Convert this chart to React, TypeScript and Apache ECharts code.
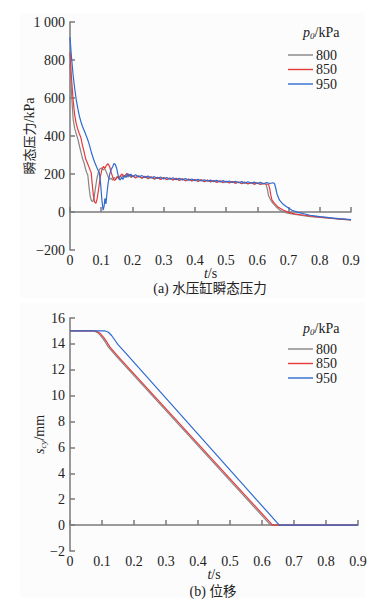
import React, { useEffect, useRef } from 'react';
import * as echarts from 'echarts';

const LATIN = 'Liberation Serif';
const CJK = 'Liberation Serif, Noto Sans CJK SC';
const NAMES = ['800', '850', '950'];
const COLORS = ['#858585', '#e8393a', '#2e6bd0'];
const X_TICKS = { min: 0, max: 0.9, interval: 0.1 };
const P_TICKS = { min: -200, max: 1000, interval: 200 };
const S_TICKS = { min: -2, max: 16, interval: 2 };

// (a) transient pressure, [t (s), p (kPa)]
const p800: [number, number][] = [
  [0, 780], [0.005, 620], [0.01, 490], [0.015, 440], [0.02, 412], [0.025, 385], [0.03, 350],
  [0.035, 315], [0.04, 282], [0.045, 258], [0.05, 225], [0.054, 205], [0.057, 195],
  [0.061, 130], [0.065, 80], [0.069, 58], [0.073, 55], [0.077, 75], [0.081, 120], [0.086, 175],
  [0.091, 210], [0.096, 228], [0.101, 232], [0.106, 222], [0.111, 228], [0.116, 212],
  [0.121, 190], [0.126, 172], [0.131, 178], [0.136, 168], [0.141, 182], [0.146, 174],
  [0.151, 186], [0.156, 176], [0.161, 190], [0.166, 180], [0.171, 194], [0.176, 183],
  [0.181, 196], [0.186, 184], [0.191, 192], [0.196, 181],
  [0.20, 190], [0.21, 179], [0.22, 188], [0.23, 177], [0.24, 186], [0.25, 175], [0.26, 183],
  [0.27, 173], [0.28, 181], [0.29, 171], [0.30, 180], [0.31, 170], [0.32, 178], [0.33, 168],
  [0.34, 176], [0.35, 166], [0.36, 174], [0.37, 164], [0.38, 172], [0.39, 163], [0.40, 171],
  [0.41, 161], [0.42, 169], [0.43, 160], [0.44, 167], [0.45, 158], [0.46, 165], [0.47, 156],
  [0.48, 163], [0.49, 154], [0.50, 162], [0.51, 153], [0.52, 160], [0.53, 151], [0.54, 158],
  [0.55, 149], [0.56, 156], [0.57, 148], [0.58, 154], [0.59, 146], [0.60, 152], [0.61, 145],
  [0.62, 150], [0.628, 146],
  [0.632, 120], [0.636, 85], [0.643, 62], [0.65, 45], [0.66, 28], [0.673, 9], [0.69, -3],
  [0.71, -10], [0.737, -17], [0.77, -24], [0.80, -29], [0.83, -33], [0.86, -37], [0.9, -41],
];

const p850: [number, number][] = [
  [0, 840], [0.005, 700], [0.01, 590], [0.015, 510], [0.02, 465], [0.025, 435], [0.03, 412],
  [0.035, 390], [0.04, 350], [0.045, 318], [0.05, 280], [0.055, 260], [0.06, 240],
  [0.065, 218], [0.068, 206], [0.071, 150], [0.075, 85], [0.079, 52], [0.083, 46],
  [0.087, 70], [0.092, 125], [0.097, 185], [0.102, 222], [0.107, 240], [0.112, 230],
  [0.117, 246], [0.122, 254], [0.127, 238], [0.132, 208], [0.137, 182], [0.142, 166],
  [0.147, 172], [0.152, 186], [0.157, 176], [0.162, 192], [0.167, 200], [0.172, 186],
  [0.177, 194], [0.182, 203], [0.187, 190], [0.192, 198], [0.196, 186],
  [0.20, 192], [0.21, 181], [0.22, 191], [0.23, 179], [0.24, 188], [0.25, 177], [0.26, 185],
  [0.27, 175], [0.28, 183], [0.29, 172], [0.30, 181], [0.31, 171], [0.32, 179], [0.33, 169],
  [0.34, 177], [0.35, 167], [0.36, 175], [0.37, 165], [0.38, 173], [0.39, 164], [0.40, 171],
  [0.41, 162], [0.42, 170], [0.43, 160], [0.44, 168], [0.45, 159], [0.46, 166], [0.47, 157],
  [0.48, 164], [0.49, 155], [0.50, 162], [0.51, 154], [0.52, 160], [0.53, 152], [0.54, 158],
  [0.55, 150], [0.56, 157], [0.57, 149], [0.58, 155], [0.59, 147], [0.60, 153], [0.61, 146],
  [0.62, 151], [0.63, 146], [0.636, 147],
  [0.64, 120], [0.643, 90], [0.647, 62], [0.655, 45], [0.665, 28], [0.684, 9], [0.70, -2],
  [0.72, -10], [0.75, -17], [0.78, -23], [0.81, -28], [0.84, -33], [0.87, -37], [0.9, -41],
];

const p950: [number, number][] = [
  [0, 920], [0.005, 810], [0.01, 720], [0.015, 650], [0.02, 590], [0.025, 545], [0.03, 505],
  [0.035, 475], [0.04, 450], [0.045, 430], [0.05, 410], [0.055, 388], [0.06, 365],
  [0.065, 335], [0.07, 305], [0.076, 275], [0.08, 258], [0.085, 238], [0.09, 220],
  [0.094, 206], [0.098, 150], [0.102, 65], [0.106, 10], [0.109, 28], [0.112, 72],
  [0.115, 42], [0.118, 92], [0.122, 150], [0.127, 198], [0.132, 224], [0.137, 240],
  [0.141, 256], [0.145, 250], [0.149, 232], [0.153, 202], [0.157, 174], [0.161, 168],
  [0.165, 182], [0.17, 172], [0.175, 192], [0.18, 182], [0.185, 202], [0.19, 190],
  [0.195, 199],
  [0.20, 186], [0.21, 196], [0.22, 184], [0.23, 192], [0.24, 181], [0.25, 189], [0.26, 179],
  [0.27, 186], [0.28, 176], [0.29, 184], [0.30, 174], [0.31, 182], [0.32, 172], [0.33, 180],
  [0.34, 170], [0.35, 178], [0.36, 169], [0.37, 176], [0.38, 167], [0.39, 174], [0.40, 165],
  [0.41, 172], [0.42, 163], [0.43, 170], [0.44, 162], [0.45, 168], [0.46, 160], [0.47, 167],
  [0.48, 158], [0.49, 165], [0.50, 157], [0.51, 163], [0.52, 155], [0.53, 162], [0.54, 154],
  [0.55, 160], [0.56, 152], [0.57, 159], [0.58, 151], [0.59, 157], [0.60, 150], [0.61, 156],
  [0.62, 149], [0.63, 155], [0.64, 150], [0.65, 154], [0.655, 150],
  [0.659, 125], [0.663, 95], [0.671, 62], [0.68, 45], [0.69, 32], [0.711, 9], [0.73, -2],
  [0.769, -17], [0.80, -24], [0.83, -30], [0.86, -35], [0.9, -40],
];

// (b) displacement, [t (s), s_cy (mm)]
const s800: [number, number][] = [
  [0, 15], [0.07, 15], [0.08, 14.95], [0.09, 14.8], [0.1, 14.5], [0.11, 14.15], [0.12, 13.75],
  [0.15, 12.9], [0.627, 0], [0.9, 0],
];
const s850: [number, number][] = [
  [0, 15], [0.075, 15], [0.085, 14.95], [0.095, 14.8], [0.105, 14.5], [0.115, 14.15],
  [0.125, 13.75], [0.155, 12.9], [0.633, 0], [0.9, 0],
];
const s950: [number, number][] = [
  [0, 15], [0.11, 15], [0.12, 14.9], [0.13, 14.65], [0.14, 14.3], [0.15, 13.95],
  [0.17, 13.4], [0.654, 0], [0.9, 0],
];

const AXIS_COLOR = '#7a7a7a';
const TEXT_COLOR = '#222';

const minus = (v: number) => (v < 0 ? '\u2212' + Math.abs(v) : String(v));
const NUM_RICH = { n: { fontFamily: LATIN, fontSize: 14, color: TEXT_COLOR } };

function xAxis(gridIndex: number) {
  return {
    type: 'value', gridIndex, ...X_TICKS,
    axisLine: { show: true, lineStyle: { color: AXIS_COLOR, width: 1.5 } },
    axisTick: { show: true, inside: true, length: 5, lineStyle: { color: AXIS_COLOR, width: 1.5 } },
    splitLine: { show: false },
    axisLabel: {
      color: TEXT_COLOR, fontFamily: LATIN, fontSize: 14, margin: 3, rich: NUM_RICH,
      formatter: (v: number) => '{n|' + (v === 0 ? '0' : v.toFixed(1)) + '}',
    },
    name: '{i|t}{n|/s}', nameLocation: 'middle', nameGap: 16, nameMoveOverlap: false,
    nameTextStyle: {
      color: TEXT_COLOR, fontFamily: LATIN, fontSize: 14,
      rich: { i: { fontStyle: 'italic', fontFamily: LATIN, fontSize: 14, color: TEXT_COLOR }, ...NUM_RICH },
    },
  };
}

function yAxisBase(gridIndex: number) {
  return {
    type: 'value', gridIndex,
    axisLine: { show: true, lineStyle: { color: AXIS_COLOR, width: 1.5 } },
    axisTick: { show: true, inside: true, length: 5, lineStyle: { color: AXIS_COLOR, width: 1.5 } },
    splitLine: { show: false },
    nameLocation: 'middle', nameMoveOverlap: false,
  };
}

function legend(top: number) {
  return {
    orient: 'vertical', left: 283, top, itemWidth: 25, itemHeight: 1.4, itemGap: 0.5,
    icon: 'rect',
    data: NAMES, selectedMode: false,
    formatter: (name: string) => '{n|' + name + '}',
    textStyle: {
      color: TEXT_COLOR, fontFamily: LATIN, fontSize: 14, lineHeight: 14, padding: [0, 0, 0, -2],
      rich: { n: { fontFamily: LATIN, fontSize: 14, lineHeight: 14, color: TEXT_COLOR } },
    },
  };
}

function legendTitle(x: number, y: number) {
  return {
    type: 'text', left: x, top: y,
    style: {
      text: '{i|p}{sub|0}{n|/kPa}', fill: TEXT_COLOR, font: '14px ' + LATIN,
      rich: {
        i: { fontStyle: 'italic', fontFamily: LATIN, fontSize: 14, lineHeight: 16, fill: TEXT_COLOR },
        sub: { fontStyle: 'italic', fontFamily: LATIN, fontSize: 9, lineHeight: 10, verticalAlign: 'bottom', fill: TEXT_COLOR },
        n: { fontFamily: LATIN, fontSize: 14, lineHeight: 16, fill: TEXT_COLOR },
      },
    },
  };
}

function caption(x: number, y: number, label: string, title: string) {
  return {
    type: 'text', x, y,
    style: {
      text: '{n|' + label + ' }{c|' + title + '}', fill: TEXT_COLOR, align: 'center', verticalAlign: 'middle',
      rich: {
        n: { fontFamily: LATIN, fontSize: 14, fill: TEXT_COLOR },
        c: { fontFamily: CJK, fontSize: 13.5, fill: TEXT_COLOR },
      },
    },
  };
}

export default function App() {
  const ref = useRef<HTMLDivElement>(null);
  useEffect(() => {
    if (!ref.current) return;
    const chart = echarts.init(ref.current, null, { renderer: 'svg' });
    const seriesList: any[] = [];
    [p800, p850, p950].forEach((d, i) =>
      seriesList.push({
        type: 'line', name: NAMES[i], xAxisIndex: 0, yAxisIndex: 0, data: d,
        symbol: 'none', lineStyle: { color: COLORS[i], width: 1.2 }, itemStyle: { color: COLORS[i] },
      }),
    );
    [s800, s850, s950].forEach((d, i) =>
      seriesList.push({
        type: 'line', name: NAMES[i], xAxisIndex: 1, yAxisIndex: 1, data: d,
        symbol: 'none', lineStyle: { color: COLORS[i], width: 1.2 }, itemStyle: { color: COLORS[i] },
      }),
    );
    chart.setOption({
      animation: false,
      backgroundColor: '#fff',
      textStyle: { fontFamily: LATIN },
      grid: [
        { left: 70, right: 26, top: 22, height: 228 },
        { left: 70, right: 19, top: 318, height: 233 },
      ],
      xAxis: [xAxis(0), xAxis(1)],
      yAxis: [
        {
          ...yAxisBase(0), ...P_TICKS,
          axisLabel: {
            color: TEXT_COLOR, fontFamily: LATIN, fontSize: 14, margin: 5, rich: NUM_RICH,
            formatter: (v: number) => '{n|' + (v === 1000 ? '1 000' : minus(v)) + '}',
          },
          name: '{c|瞬态压力}{n|/kPa}', nameGap: 34,
          nameTextStyle: {
            color: TEXT_COLOR, fontFamily: CJK, fontSize: 13,
            rich: { c: { fontFamily: CJK, fontSize: 13, color: TEXT_COLOR }, ...NUM_RICH },
          },
        },
        {
          ...yAxisBase(1), ...S_TICKS,
          axisLabel: {
            color: TEXT_COLOR, fontFamily: LATIN, fontSize: 14, margin: 5, rich: NUM_RICH,
            formatter: (v: number) => '{n|' + minus(v) + '}',
          },
          name: '{i|s}{sub|cy}{n|/mm}', nameGap: 23,
          nameTextStyle: {
            color: TEXT_COLOR, fontFamily: LATIN, fontSize: 14, lineHeight: 16,
            rich: {
              i: { fontStyle: 'italic', fontFamily: LATIN, fontSize: 14, lineHeight: 16, color: TEXT_COLOR },
              sub: { fontStyle: 'italic', fontFamily: LATIN, fontSize: 9, lineHeight: 10, verticalAlign: 'bottom', color: TEXT_COLOR },
              n: { fontFamily: LATIN, fontSize: 14, lineHeight: 16, color: TEXT_COLOR },
            },
          },
        },
      ],
      legend: [legend(43), legend(337)],
      graphic: [
        { type: 'rect', z: -10, shape: { x: 20, y: 13, width: 345, height: 285 }, style: { fill: '#fcfcfc' }, silent: true },
        { type: 'rect', z: -10, shape: { x: 20, y: 303, width: 345, height: 295 }, style: { fill: '#fcfcfc' }, silent: true },
        legendTitle(303, 25),
        legendTitle(303, 321),
        caption(210, 288, '(a)', '水压缸瞬态压力'),
        caption(213, 591, '(b)', '位移'),
      ],
      series: seriesList,
    });
    return () => chart.dispose();
  }, []);
  return <div ref={ref} style={{ position: 'fixed', left: 0, top: 0, width: 377, height: 600 }} />;
}
